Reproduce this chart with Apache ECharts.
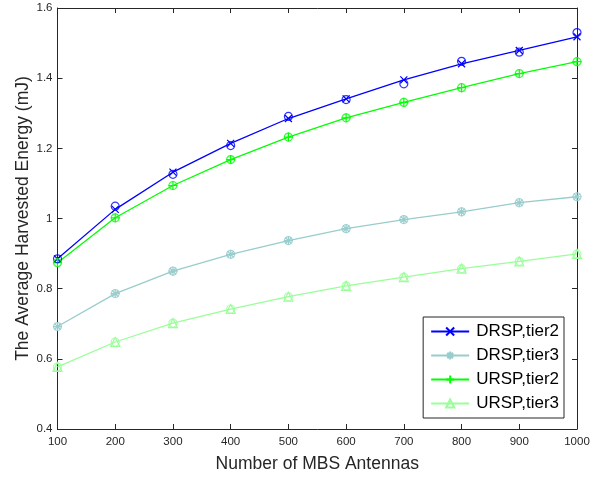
<!DOCTYPE html>
<html><head><meta charset="utf-8">
<script src="https://cdn.jsdelivr.net/npm/echarts@6/dist/echarts.min.js"></script>
<style>html,body{margin:0;padding:0;background:#fff}#c{width:606px;height:478px}</style>
</head><body><div id="c"></div>
<script>
const antennas = [100, 200, 300, 400, 500, 600, 700, 800, 900, 1000];
const drspTier2 = [0.885, 1.026, 1.132, 1.214, 1.285, 1.341, 1.395, 1.441, 1.479, 1.518];
const drspTier2Sim = [0.885, 1.035, 1.126, 1.208, 1.291, 1.339, 1.384, 1.448, 1.474, 1.530];
const drspTier3 = [0.692, 0.786, 0.850, 0.898, 0.937, 0.971, 0.997, 1.019, 1.045, 1.062];
const drspTier3Sim = [0.692, 0.786, 0.850, 0.898, 0.937, 0.971, 0.997, 1.019, 1.045, 1.062];
const urspTier2 = [0.874, 1.002, 1.094, 1.168, 1.232, 1.287, 1.331, 1.373, 1.413, 1.447];
const urspTier2Sim = [0.874, 1.002, 1.094, 1.168, 1.232, 1.287, 1.331, 1.373, 1.413, 1.447];
const urspTier3 = [0.577, 0.648, 0.702, 0.742, 0.777, 0.808, 0.833, 0.857, 0.878, 0.899];
const urspTier3Sim = [0.577, 0.648, 0.702, 0.742, 0.777, 0.808, 0.833, 0.857, 0.878, 0.899];
const seriesNames = ['DRSP,tier2', 'DRSP,tier3', 'URSP,tier2', 'URSP,tier3'];

const pairs = v => antennas.map((x, i) => [x, v[i]]);
const SYM_X = 'path://M0,0L10,10M10,0L0,10';
const SYM_PLUS = 'path://M5,0L5,10M0,5L10,5';
const SYM_STAR = 'path://M5,0L5,10M0,5L10,5M1.5,1.5L8.5,8.5M8.5,1.5L1.5,8.5';
const SYM_TRI = 'path://M5,0L10,9L0,9Z';
const FONT = 'Liberation Sans, Arial, sans-serif';
const AX = '#262626';

function lineSeries(name, data, color, symbol, size) {
  return {
    name, type: 'line', data: pairs(data), symbol, symbolSize: size,
    showAllSymbol: true, animation: false,
    lineStyle: { color, width: 1.3 },
    itemStyle: { color: 'transparent', borderColor: color, borderWidth: 1.2 },
    emphasis: { disabled: true }, z: 3
  };
}
function simSeries(data, color) {
  return {
    type: 'scatter', data: pairs(data), symbol: 'circle', symbolSize: 8,
    animation: false,
    itemStyle: { color: 'transparent', borderColor: color, borderWidth: 1.2 },
    emphasis: { disabled: true }, z: 4
  };
}
const cBlue = '#0000ff', cTeal = '#99cccc', cGreen = '#00ff00', cLight = '#99ff99';
const axisCommon = {
  axisLine: { show: true, lineStyle: { color: AX, width: 1 } },
  axisTick: { show: true, inside: true, length: 5, lineStyle: { color: AX } },
  splitLine: { show: false }
};
const chart = echarts.init(document.getElementById('c'), null, { renderer: 'canvas' });
chart.setOption({
  animation: false,
  backgroundColor: '#fff',
  grid: { left: 57.5, right: 29, top: 8, bottom: 48, containLabel: false },
  xAxis: [
    Object.assign({
      type: 'value', min: 100, max: 1000, interval: 100, position: 'bottom',
      axisLabel: { color: AX, fontSize: 11.5, fontFamily: FONT, margin: 7,
        formatter: v => String(Math.round(v)) },
      name: 'Number of MBS Antennas', nameLocation: 'middle', nameGap: 26,
      nameMoveOverlap: false,
      nameTextStyle: { color: AX, fontSize: 17.5, fontFamily: FONT }
    }, axisCommon),
    Object.assign({
      type: 'value', min: 100, max: 1000, interval: 100, position: 'top',
      axisLabel: { show: false }
    }, axisCommon)
  ],
  yAxis: [
    Object.assign({
      type: 'value', min: 0.4, max: 1.6, interval: 0.2, position: 'left',
      axisLabel: { color: AX, fontSize: 11.5, fontFamily: FONT, margin: 5,
        formatter: v => String(Math.round(v * 10) / 10) },
      name: 'The Average Harvested Energy (mJ)', nameLocation: 'middle', nameGap: 25,
      nameMoveOverlap: false,
      nameTextStyle: { color: AX, fontSize: 17.5, fontFamily: FONT }
    }, axisCommon),
    Object.assign({
      type: 'value', min: 0.4, max: 1.6, interval: 0.2, position: 'right',
      axisLabel: { show: false }
    }, axisCommon)
  ],
  legend: {
    data: seriesNames,
    orient: 'vertical', right: 42, bottom: 60,
    backgroundColor: '#fff', borderColor: AX, borderWidth: 1,
    padding: [6, 5, 6, 7], itemGap: 7, itemWidth: 38, itemHeight: 10,
    textStyle: { color: '#000', fontSize: 17, fontFamily: FONT, padding: [0, 0, 0, 2] },
    selectedMode: false
  },
  series: [
    lineSeries(seriesNames[0], drspTier2, cBlue, SYM_X, 7),
    lineSeries(seriesNames[1], drspTier3, cTeal, SYM_STAR, 9),
    lineSeries(seriesNames[2], urspTier2, cGreen, SYM_PLUS, 9),
    lineSeries(seriesNames[3], urspTier3, cLight, SYM_TRI, 9),
    simSeries(drspTier2Sim, cBlue),
    simSeries(drspTier3Sim, cTeal),
    simSeries(urspTier2Sim, cGreen),
    simSeries(urspTier3Sim, cLight)
  ]
});
</script></body></html>
